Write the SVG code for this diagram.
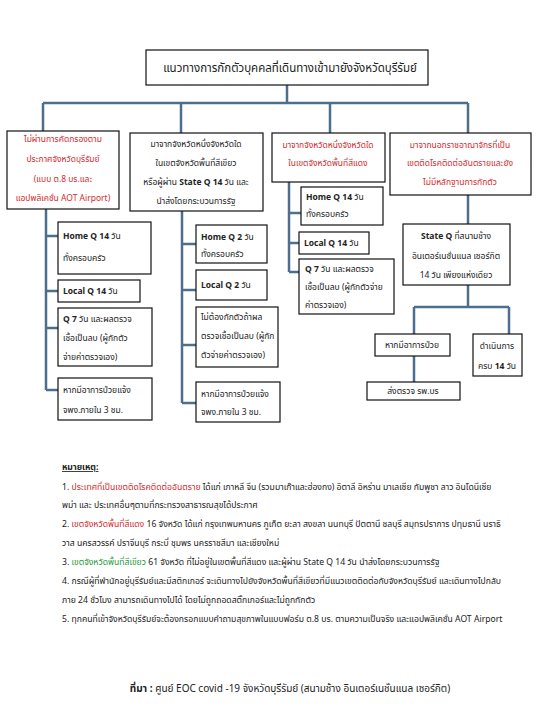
<svg xmlns="http://www.w3.org/2000/svg" width="536" height="728" viewBox="0 0 536 728">
<style>
text{font-family:"Noto Sans Thai","Tahoma","DejaVu Sans","Noto Sans",sans-serif;fill:#222;}
.box{fill:#fff;stroke:#111;stroke-width:1.2;}
.t{font-size:8.5px;}
.c{text-anchor:middle;}
.red{fill:#d42a2e;}
.green{fill:#1f9a3a;}
.b{font-weight:bold;}
.n{font-size:8.65px;}
#connectors path{fill:none;stroke:#4e6e8e;stroke-width:2.5;}
</style>
<rect width="536" height="728" fill="#fff"/>
<g id="connectors">
<path d="M287 85V103M43 103H468M43 103V131M181 103V133M330 103V133M468 103V133"/>
<path d="M46 209V390M46 236H58M46 291H58M46 328H58M46 390H58"/>
<path d="M182 211V403M182 244H196M182 290H196M182 345H196M182 403H196"/>
<path d="M289 182V272M289 213H301M289 243H299M289 272H299"/>
<path d="M468 195V224M468 285V307M414 307H509M414 307V334M509 307V334M414 356V382"/>
</g>
<g id="title"><rect class="box" x="146" y="50" width="282" height="35"/><text x="290" y="72" class="c" font-size="11.5">แนวทางการกักตัวบุคคลที่เดินทางเข้ามายังจังหวัดบุรีรัมย์</text></g>
<g id="cat1"><rect class="box" x="7" y="131" width="112" height="78"/>
<text class="t c red" x="63" y="142">ไม่ผ่านการคัดกรองตาม</text>
<text class="t c red" x="63" y="162">ประกาศจังหวัดบุรีรัมย์</text>
<text class="t c red" x="63" y="182">(แบบ ต.8 บร.และ</text>
<text class="t c red" x="63" y="201">แอปพลิเคชั่น AOT Airport)</text></g>
<g id="cat2"><rect class="box" x="130" y="133" width="133" height="78"/>
<text class="t c" x="196" y="147">มาจากจังหวัดหนึ่งจังหวัดใด</text>
<text class="t c" x="196" y="166">ในเขตจังหวัดพื้นที่สีเขียว</text>
<text class="t c" x="196" y="185">หรือผู้ผ่าน <tspan class="b">State Q 14</tspan> วัน และ</text>
<text class="t c" x="196" y="204">นำส่งโดยกระบวนการรัฐ</text></g>
<g id="cat3"><rect class="box" x="272" y="133" width="113" height="49"/>
<text class="t c red" x="328" y="148">มาจากจังหวัดหนึ่งจังหวัดใด</text>
<text class="t c red" x="328" y="166">ในเขตจังหวัดพื้นที่สีแดง</text></g>
<g id="cat4"><rect class="box" x="390" y="133" width="141" height="62"/>
<text class="t c red" x="460" y="148">มาจากนอกราชอาณาจักรที่เป็น</text>
<text class="t c red" x="460" y="166">เขตติดโรคติดต่ออันตรายและยัง</text>
<text class="t c red" x="460" y="185">ไม่มีหลักฐานการกักตัว</text></g>
<g id="c1home"><rect class="box" x="58" y="222" width="93" height="52"/>
<text class="t" x="63" y="239"><tspan class="b">Home  Q 14</tspan> วัน</text>
<text class="t" x="63" y="261">ทั้งครอบครัว</text></g>
<g id="c1local"><rect class="box" x="58" y="280" width="82" height="22"/>
<text class="t" x="63" y="294"><tspan class="b">Local Q  14</tspan> วัน</text></g>
<g id="c1q7"><rect class="box" x="58" y="308" width="94" height="58"/>
<text class="t" x="63" y="322"><tspan class="b">Q 7</tspan> วัน และผลตรวจ</text>
<text class="t" x="63" y="341">เชื้อเป็นลบ (ผู้กักตัว</text>
<text class="t" x="63" y="360">จ่ายค่าตรวจเอง)</text></g>
<g id="c1sick"><rect class="box" x="58" y="378" width="94" height="42"/>
<text class="t" x="63" y="393">หากมีอาการป่วยแจ้ง</text>
<text class="t" x="63" y="413">จพง.ภายใน 3 ชม.</text></g>
<g id="c2home"><rect class="box" x="196" y="225" width="71" height="38"/>
<text class="t" x="201" y="240"><tspan class="b">Home  Q 2</tspan> วัน</text>
<text class="t" x="201" y="257">ทั้งครอบครัว</text></g>
<g id="c2local"><rect class="box" x="196" y="270" width="71" height="30"/>
<text class="t" x="201" y="288"><tspan class="b">Local Q  2</tspan> วัน</text></g>
<g id="c2neg"><rect class="box" x="196" y="307" width="82" height="60"/>
<text class="t" x="201" y="320">ไม่ต้องกักตัวถ้าผล</text>
<text class="t" x="201" y="339">ตรวจเชื้อเป็นลบ (ผู้กัก</text>
<text class="t" x="201" y="358">ตัวจ่ายค่าตรวจเอง)</text></g>
<g id="c2sick"><rect class="box" x="196" y="382" width="84" height="40"/>
<text class="t" x="201" y="397">หากมีอาการป่วยแจ้ง</text>
<text class="t" x="201" y="415">จพง.ภายใน 3 ชม.</text></g>
<g id="c3home"><rect class="box" x="301" y="187" width="82" height="38"/>
<text class="t" x="306" y="200"><tspan class="b">Home  Q 14</tspan> วัน</text>
<text class="t" x="306" y="217">ทั้งครอบครัว</text></g>
<g id="c3local"><rect class="box" x="299" y="232" width="70" height="22"/>
<text class="t" x="304" y="246"><tspan class="b">Local Q  14</tspan> วัน</text></g>
<g id="c3q7"><rect class="box" x="299" y="259" width="95" height="55"/>
<text class="t" x="305" y="272"><tspan class="b">Q 7</tspan> วัน และผลตรวจ</text>
<text class="t" x="305" y="290">เชื้อเป็นลบ (ผู้กักตัวจ่าย</text>
<text class="t" x="305" y="308">ค่าตรวจเอง)</text></g>
<g id="stateq"><rect class="box" x="403" y="224" width="107" height="61"/>
<text class="t c" x="456" y="239"><tspan class="b">State Q</tspan> ที่สนามช้าง</text>
<text class="t c" x="456" y="259">อินเตอร์เนชั่นแนล เซอร์กิต</text>
<text class="t c" x="456" y="278">14 วัน เพียงแห่งเดียว</text></g>
<g id="sick4"><rect class="box" x="375" y="334" width="75" height="22"/>
<text class="t c" x="412" y="348">หากมีอาการป่วย</text></g>
<g id="done"><rect class="box" x="473" y="334" width="49" height="42"/>
<text class="t c" x="497" y="349">ดำเนินการ</text>
<text class="t c" x="497" y="369">ครบ <tspan class="b">14</tspan> วัน</text></g>
<g id="send"><rect class="box" x="367" y="382" width="93" height="18"/>
<text class="t c" x="413" y="394">ส่งตรวจ  รพ.บร</text></g>
<g id="notes">
<text class="n b" x="62" y="470" text-decoration="underline">หมายเหตุ:</text>
<text class="n" x="62" y="490">1. <tspan class="red">ประเทศที่เป็นเขตติดโรคติดต่ออันตราย</tspan> ได้แก่ เกาหลี จีน (รวมมาเก๊าและฮ่องกง) อิตาลี อิหร่าน มาเลเซีย กัมพูชา ลาว อินโดนีเซีย</text>
<text class="n" x="62" y="508">พม่า และ ประเทศอื่นๆตามที่กระทรวงสาธารณสุขได้ประกาศ</text>
<text class="n" x="62" y="527">2. <tspan class="red">เขตจังหวัดพื้นที่สีแดง</tspan> 16 จังหวัด ได้แก่ กรุงเทพมหานคร ภูเก็ต ยะลา สงขลา นนทบุรี ปัตตานี ชลบุรี สมุทรปราการ ปทุมธานี  นราธิ</text>
<text class="n" x="62" y="546">วาส  นครสวรรค์ ปราจีนบุรี กระบี่ ชุมพร นครราชสีมา และเชียงใหม่</text>
<text class="n" x="62" y="565">3. <tspan class="green">เขตจังหวัดพื้นที่สีเขียว</tspan> 61 จังหวัด ที่ไม่อยู่ในเขตพื้นที่สีแดง และผู้ผ่าน State Q 14 วัน นำส่งโดยกระบวนการรัฐ</text>
<text class="n" x="62" y="584">4. กรณีผู้ที่พำนักอยู่บุรีรัมย์และมีสติกเกอร์ จะเดินทางไปยังจังหวัดพื้นที่สีเขียวที่มีแนวเขตติดต่อกับจังหวัดบุรีรัมย์ และเดินทางไปกลับ</text>
<text class="n" x="62" y="603">ภาย 24 ชั่วโมง สามารถเดินทางไปได้ โดยไม่ถูกถอดสติ๊กเกอร์และไม่ถูกกักตัว</text>
<text class="n" x="62" y="622">5. ทุกคนที่เข้าจังหวัดบุรีรัมย์จะต้องกรอกแบบคำถามสุขภาพในแบบฟอร์ม ต.8 บร. ตามความเป็นจริง และแอปพลิเคชั่น AOT Airport</text>
</g>
<g id="source"><text x="290" y="692" class="c" font-size="10"><tspan class="b">ที่มา :</tspan> ศูนย์ EOC covid -19 จังหวัดบุรีรัมย์ (สนามช้าง อินเตอร์เนชั่นแนล เซอร์กิต)</text></g>
</svg>
